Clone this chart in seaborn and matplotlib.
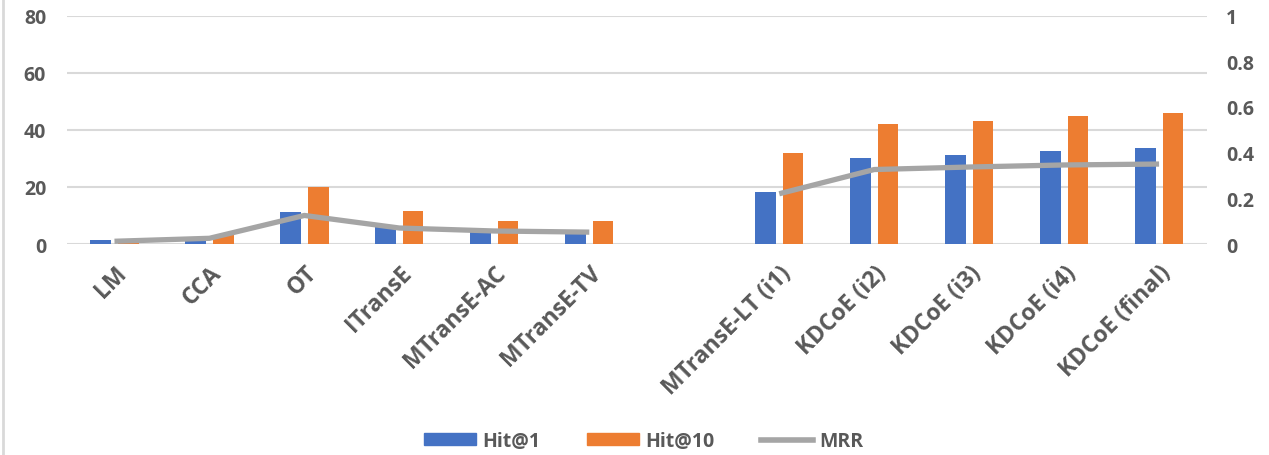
import pandas as pd
import matplotlib
matplotlib.use("Agg")
import matplotlib.pyplot as plt
from matplotlib.patches import Patch
from matplotlib.lines import Line2D
import seaborn as sns

# data (blank slot separates the two groups)
methods = ["LM", "CCA", "OT", "ITransE", "MTransE-AC", "MTransE-TV", " ",
           "MTransE-LT (i1)", "KDCoE (i2)", "KDCoE (i3)", "KDCoE (i4)", "KDCoE (final)"]
hit1 = [1.4, 1.0, 11.1, 5.8, 4.2, 3.5, None, 18.2, 30.0, 31.3, 32.4, 33.5]
hit10 = [1.0, 3.0, 20.0, 11.5, 8.2, 7.9, None, 31.8, 42.0, 43.2, 45.0, 46.0]
mrr = [0.012, 0.025, 0.125, 0.07, 0.057, 0.052, None, 0.22, 0.326, 0.337, 0.346, 0.35]
line_group = ["a"] * 6 + [None] + ["b"] * 5

blue = "#4472C4"
orange = "#ED7D31"
grey = "#A5A5A5"
txt = "#595959"

plt.rcParams["font.family"] = ["Open Sans", "DejaVu Sans"]

bars = pd.DataFrame({"method": methods * 2,
                     "value": hit1 + hit10,
                     "metric": ["Hit@1"] * len(methods) + ["Hit@10"] * len(methods)})
line = pd.DataFrame({"method": methods, "mrr": mrr, "grp": line_group}).dropna()

fig = plt.figure(figsize=(12.69, 4.56), dpi=100)
ax = fig.add_axes([0.0528, 0.4627, 0.898, 0.501])

sns.barplot(data=bars, x="method", y="value", hue="metric", order=methods,
            palette=[blue, orange], width=0.58, gap=0.25, ax=ax, legend=False,
            saturation=1)

ax2 = ax.twinx()
sns.pointplot(data=line, x="method", y="mrr", hue="grp", order=methods,
              palette=[grey, grey], markers="", linestyles="-", dodge=False,
              ax=ax2, legend=False, errorbar=None)
for l in ax2.lines:
    l.set_linewidth(3.8)
    l.set_solid_capstyle("butt")

ax.set_xlim(-0.5, len(methods) - 0.5)
ax.set_ylim(0, 80)
ax.set_yticks(range(0, 81, 20))
ax2.set_ylim(0, 1)
ax2.set_yticks([0, 0.2, 0.4, 0.6, 0.8, 1])
ax2.set_yticklabels(["0", "0.2", "0.4", "0.6", "0.8", "1"])

ax.grid(axis="y", color="#D9D9D9", linewidth=1.5)
ax.grid(axis="x", visible=False)
ax.set_axisbelow(True)
for a in (ax, ax2):
    for s in a.spines.values():
        s.set_visible(False)
    a.set_xlabel("")
    a.set_ylabel("")

ax.tick_params(axis="y", length=0, pad=15, labelsize=14, labelcolor=txt)
ax2.tick_params(axis="y", length=0, pad=14, labelsize=14, labelcolor=txt)
ax.tick_params(axis="x", length=0, pad=12, labelsize=16.5, labelcolor=txt)
for lab in ax.get_yticklabels() + ax2.get_yticklabels():
    lab.set_fontweight("bold")
ax.set_xticks(range(len(methods)))
ax.set_xticklabels(methods, rotation=45, ha="right", rotation_mode="anchor",
                   fontweight="bold")

handles = [Patch(color=blue, label="Hit@1"),
           Patch(color=orange, label="Hit@10"),
           Line2D([], [], color=grey, lw=4, label="MRR")]
leg = fig.legend(handles=handles, loc="lower center", bbox_to_anchor=(0.507, -0.03),
                 ncol=3, frameon=False, handlelength=2.7, handleheight=0.6,
                 columnspacing=2.4, handletextpad=0.3,
                 prop={"size": 14, "weight": "bold"})
for t in leg.get_texts():
    t.set_color(txt)

fig.add_artist(Line2D([0.002, 0.002], [0, 1], color="#D9D9D9", lw=2))

fig.savefig("out.png", dpi=100)
